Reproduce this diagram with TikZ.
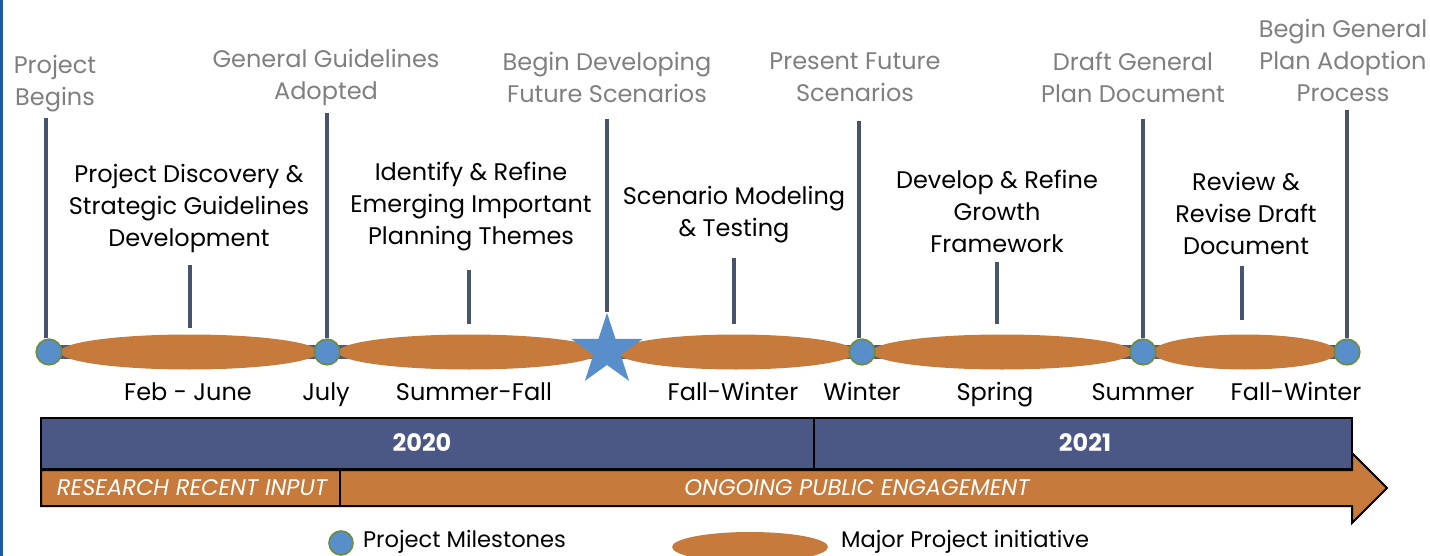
\documentclass[tikz,border=0pt]{standalone}
\usepackage{fontspec}
\setmainfont{Poppins}
\usetikzlibrary{shapes.geometric}

\definecolor{barblue}{RGB}{75,87,132}
\definecolor{initorange}{RGB}{198,122,60}
\definecolor{stoneblue}{RGB}{88,143,202}
\definecolor{rimgreen}{RGB}{110,140,60}
\definecolor{tickgray}{RGB}{72,84,106}
\definecolor{labelgray}{RGB}{127,127,127}
\definecolor{edgeblue}{RGB}{31,90,160}

\tikzset{
  milestone/.style={circle, draw=rimgreen, line width=0.8pt, fill=stoneblue, inner sep=0pt, minimum size=12.8pt},
  initiative/.style={ellipse, fill=initorange, inner sep=0pt, minimum height=17.5pt},
  tick/.style={draw=tickgray, line width=2pt},
  mslabel/.style={text=labelgray, align=center, font=\fontsize{12}{16}\selectfont},
  initlabel/.style={align=center, font=\fontsize{12}{16}\selectfont},
  period/.style={anchor=base, font=\fontsize{12}{16}\selectfont},
  legendtext/.style={anchor=west, font=\fontsize{11.3}{14}\selectfont},
  bartext/.style={text=white, font=\bfseries\fontsize{12}{14}\selectfont},
  bandtext/.style={text=white, font=\itshape\fontsize{11.3}{13}\selectfont},
}

\begin{document}
\begin{tikzpicture}[x=0.5pt, y=-0.5pt]
    \useasboundingbox (0,0) rectangle (1430,556);
    \fill[edgeblue] (0,0) rectangle (2.5,556);

    % Milestone positions
    \coordinate (p1) at (49,352);
    \coordinate (p2) at (327,352);
    \coordinate (p3) at (607,350.5);
    \coordinate (p4) at (862,352);
    \coordinate (p5) at (1143,352);
    \coordinate (p6) at (1347,352);

    % Timeline
    \draw[barblue, line width=7pt] (p1) -- (p6);

    % Initiatives
    \node[initiative, minimum width=129pt] (e1) at (189,352) {};
    \node[initiative, minimum width=131pt] (e2) at (469,352) {};
    \node[initiative, minimum width=119pt] (e3) at (736,352) {};
    \node[initiative, minimum width=130.5pt] (e4) at (1002,352) {};
    \node[initiative, minimum width=92pt] (e5) at (1245,352) {};

    % Milestones
    \node[milestone] (m1) at (p1) {};
    \node[milestone] (m2) at (p2) {};
    \node[star, star points=5, star point ratio=2.6, fill=stoneblue, inner sep=0pt, minimum size=37.6pt] (m3) at (p3) {};
    \node[milestone] (m4) at (p4) {};
    \node[milestone] (m5) at (p5) {};
    \node[milestone] (m6) at (p6) {};

    % Milestone ticks
    \coordinate (t1) at (46,118);
    \coordinate (t2) at (327,113);
    \coordinate (t3) at (607,119);
    \coordinate (t4) at (859,121);
    \coordinate (t5) at (1143,119);
    \coordinate (t6) at (1347,110);
    \draw[tick] (t1) -- (t1 |- m1.north);
    \draw[tick] (t2) -- (m2.north);
    \draw[tick] (t3) -- (m3.north);
    \draw[tick] (t4) -- (t4 |- m4.north);
    \draw[tick] (t5) -- (m5.north);
    \draw[tick] (t6) -- (m6.north);

    % Initiative ticks
    \coordinate (q1) at (190,265);
    \coordinate (q2) at (469,270);
    \coordinate (q3) at (734,258);
    \coordinate (q4) at (997,262);
    \coordinate (q5) at (1242,266);
    \draw[tick, shorten <=3pt] (q1 |- e1.north) -- (q1);
    \draw[tick, shorten <=5pt] (q2 |- e2.north) -- (q2);
    \draw[tick, shorten <=5pt] (q3 |- e3.north) -- (q3);
    \draw[tick, shorten <=5pt] (q4 |- e4.north) -- (q4);
    \draw[tick, shorten <=7pt] (q5 |- e5.north) -- (q5);

    % Milestone labels
    \node[mslabel] (l1) at (55,84) {Project\\Begins};
    \node[mslabel] (l2) at (326,77.5) {General Guidelines\\Adopted};
    \node[mslabel] (l3) at (607,77.5) {Begin Developing\\Future Scenarios};
    \node[mslabel] (l4) at (855,77) {Present Future\\Scenarios};
    \node[mslabel] (l5) at (1133,77.5) {Draft General\\Plan Document};
    \node[mslabel] (l6) at (1343,60) {Begin General\\Plan Adoption\\Process};

    % Initiative labels
    \node[initlabel] (i1) at (189,208.5) {Project Discovery \&\\Strategic Guidelines\\Development};
    \node[initlabel] (i2) at (471,207) {Identify \& Refine\\Emerging Important\\Planning Themes};
    \node[initlabel] (i3) at (734,215) {Scenario Modeling\\\& Testing};
    \node[initlabel] (i4) at (997,211) {Develop \& Refine\\Growth\\Framework};
    \node[initlabel] (i5) at (1246,213) {Review \&\\Revise Draft\\Document};

    % Periods
    \node[period] (d1) at (188,400) {Feb - June};
    \node[period] (d2) at (326,400) {July};
    \node[period] (d3) at (474,400) {Summer-Fall};
    \node[period] (d4) at (733,400) {Fall-Winter};
    \node[period] (d5) at (862,400) {Winter};
    \node[period] (d6) at (995,400) {Spring};
    \node[period] (d7) at (1143,400) {Summer};
    \node[period] (d8) at (1296,400) {Fall-Winter};

    % Engagement arrow
    \draw[fill=initorange, line width=1pt] (41,470) -- (1352,470) -- (1352,453) -- (1387,488)
        -- (1352,523) -- (1352,506) -- (41,506) -- cycle;
    \draw[line width=1pt] (340,470) -- (340,506);
    \node[bandtext] (b1) at (192,488) {RESEARCH RECENT INPUT};
    \node[bandtext] (b2) at (857,488) {ONGOING PUBLIC ENGAGEMENT};

    % Years
    \draw[fill=barblue, line width=1pt] (41,418) rectangle (814,469);
    \draw[fill=barblue, line width=1pt] (814,418) rectangle (1352,469);
    \node[bartext] (y1) at (422,443) {2020};
    \node[bartext] (y2) at (1085,443) {2021};

    % Legend
    \node[milestone, minimum size=12pt] (k1) at (341,543) {};
    \node[legendtext] (k1t) at (356,542) {Project Milestones};
    \node[initiative, minimum width=78pt, minimum height=15pt] (k2) at (750,547) {};
    \node[legendtext] (k2t) at (834,542) {Major Project initiative};

\end{tikzpicture}
\end{document}
